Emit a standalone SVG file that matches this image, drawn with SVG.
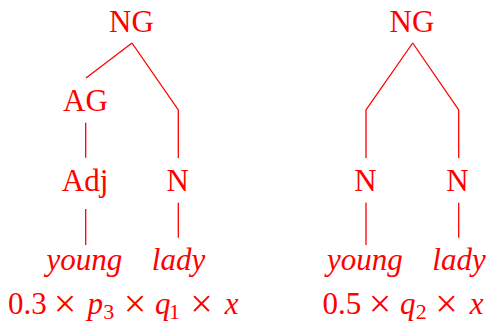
<svg xmlns="http://www.w3.org/2000/svg" width="486" height="325" viewBox="0 0 486 325">
  <style>
    .lbl { font-family: "Liberation Serif", "Times New Roman", serif; font-size: 31px; fill: #ff0000; text-anchor: middle; }
    .it { font-style: italic; }
    .sub { font-size: 22px; }
    .op { font-size: 40px; }
    .edge { stroke: #ff0000; stroke-width: 1.3; fill: none; }
  </style>
  <rect width="486" height="325" fill="#ffffff"/>

  <!-- tree branches -->
  <g id="connectors">
    <!-- left tree -->
    <path class="edge" d="M132,43 L86,78"/>
    <path class="edge" d="M132,43 L178.3,110 L178.3,158"/>
    <path class="edge" d="M85.7,122.7 L85.7,157.7"/>
    <path class="edge" d="M85.7,209 L85.7,245"/>
    <path class="edge" d="M178.3,202.7 L178.3,237.7"/>
    <!-- right tree -->
    <path class="edge" d="M412.7,43 L366,110 L366,158"/>
    <path class="edge" d="M412.7,43 L458.7,110 L458.7,158"/>
    <path class="edge" d="M366,202.7 L366,245"/>
    <path class="edge" d="M458.7,202.7 L458.7,237.7"/>
  </g>

  <!-- left tree nodes -->
  <g id="ng-left"><text class="lbl" x="131.5" y="32">NG</text></g>
  <g id="ag-left"><text class="lbl" x="85.5" y="111">AG</text></g>
  <g id="adj-left"><text class="lbl" x="85" y="190.7">Adj</text></g>
  <g id="n-left"><text class="lbl" x="177.7" y="190.7">N</text></g>
  <g id="young-left"><text class="lbl it" x="84.5" y="270">young</text></g>
  <g id="lady-left"><text class="lbl it" x="178.5" y="270">lady</text></g>

  <!-- right tree nodes -->
  <g id="ng-right"><text class="lbl" x="412" y="32">NG</text></g>
  <g id="n1-right"><text class="lbl" x="365.5" y="190.7">N</text></g>
  <g id="n2-right"><text class="lbl" x="457.5" y="190.7">N</text></g>
  <g id="young-right"><text class="lbl it" x="365" y="270">young</text></g>
  <g id="lady-right"><text class="lbl it" x="459" y="270">lady</text></g>

  <!-- probability of each parse -->
  <g id="prob-left">
    <text class="lbl" y="314">
      <tspan x="31.2">0.3</tspan>
      <tspan class="op" x="68.9" y="317">×</tspan>
      <tspan class="it" x="99" y="314">p</tspan>
      <tspan class="sub" x="112.5" y="319">3</tspan>
      <tspan class="op" x="138.9" y="317">×</tspan>
      <tspan class="it" x="166.7" y="314">q</tspan>
      <tspan class="sub" x="178.3" y="319">1</tspan>
      <tspan class="op" x="205.5" y="317">×</tspan>
      <tspan class="it" x="231.7" y="314">x</tspan>
    </text>
  </g>
  <g id="prob-right">
    <text class="lbl" y="314">
      <tspan x="345.8">0.5</tspan>
      <tspan class="op" x="383.9" y="317">×</tspan>
      <tspan class="it" x="411.7" y="314">q</tspan>
      <tspan class="sub" x="425" y="319">2</tspan>
      <tspan class="op" x="450.5" y="317">×</tspan>
      <tspan class="it" x="476.7" y="314">x</tspan>
    </text>
  </g>
</svg>
